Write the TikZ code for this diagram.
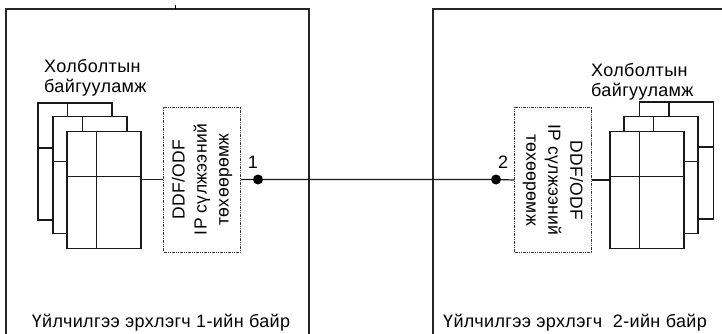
\documentclass[tikz,border=0pt]{standalone}
\usepackage{fontspec}
\setmainfont{Liberation Sans}[LetterSpace=2]
\tikzset{
  x=1pt, y=-1pt,
  every node/.style={font=\fontsize{18}{20}\selectfont, inner sep=0pt},
  frame/.style={line width=1.4pt, draw=black!85},
  card/.style={draw=black!90, line width=1.2pt, fill=white, minimum width=74pt, minimum height=117pt,
    path picture={
      \draw[line width=1.2pt] ([xshift=29.5pt]path picture bounding box.north west) -- ([xshift=29.5pt]path picture bounding box.south west);
      \draw[line width=1.2pt] ([yshift=-45pt]path picture bounding box.north west) -- ([yshift=-45pt]path picture bounding box.north east);
    }},
  ddfbox/.style={draw=black!80, line width=0.8pt, dash pattern=on 3pt off 1pt on 1pt off 1pt on 1pt off 1pt,
    minimum width=77pt, minimum height=145pt},
  ddftext/.style={align=center, font=\fontsize{17.5}{22}\selectfont},
  dot/.style={circle, fill=black, minimum size=10pt},
  wire/.style={line width=1.2pt, draw=black!90},
}
\begin{document}
\begin{tikzpicture}
\useasboundingbox (0,0) rectangle (722,334);
% site frames
\draw[frame] (6,345) -- (6,9) -- (309,9) -- (309,345);
\draw[frame] (433,345) -- (433,9) -- (730,9);
\coordinate (tickA) at (175,5);
\coordinate (tickB) at (175,9);
\draw[line width=1pt] (tickA) -- (tickB);

% left stacked equipment
\node[card] (lback) at (75,161.5) {};
\node[card] (lmid) at (90,175) {};
\node[card] (lfront) at (104,190) {};
\node[anchor=west, align=left] (llab) at (44,78) {Холболтын\\байгууламж};

% right stacked equipment
\node[card] (rback) at (676.5,160.5) {};
\node[card] (rmid) at (661,175) {};
\node[card] (rfront) at (647,190) {};
\node[anchor=west, align=left] (rlab) at (591,82) {Холболтын\\байгууламж};

% DDF/ODF boxes
\node[ddfbox] (dl) at (202,179.5) {};
\node[ddftext, rotate=90] (dlt) at (dl.center) {DDF/ODF\\IP сүлжээний\\төхөөрөмж};
\node[ddfbox] (dr) at (553,180) {};
\node[ddftext, rotate=-90] (drt) at (dr.center) {DDF/ODF\\IP сүлжээний\\төхөөрөмж};

% connection points
\node[dot] (p1) at (258,179.5) {};
\node[dot] (p2) at (496,179.5) {};
\node (n1) at (253,162) {1};
\node (n2) at (503,162) {2};

% wires
\draw[wire] (dl.west) -- (dl.west -| lfront.east);
\draw[wire] (dr.east) -- (dr.east -| rfront.west);
\draw[wire] (dl.east) -- (p1) -- (p2) -- (dr.west);

% site labels
\node (sl) at (161,323) {Үйлчилгээ эрхлэгч 1-ийн байр};
\node (sr) at (575,323) {Үйлчилгээ эрхлэгч\ \ 2-ийн байр};
\end{tikzpicture}
\end{document}
